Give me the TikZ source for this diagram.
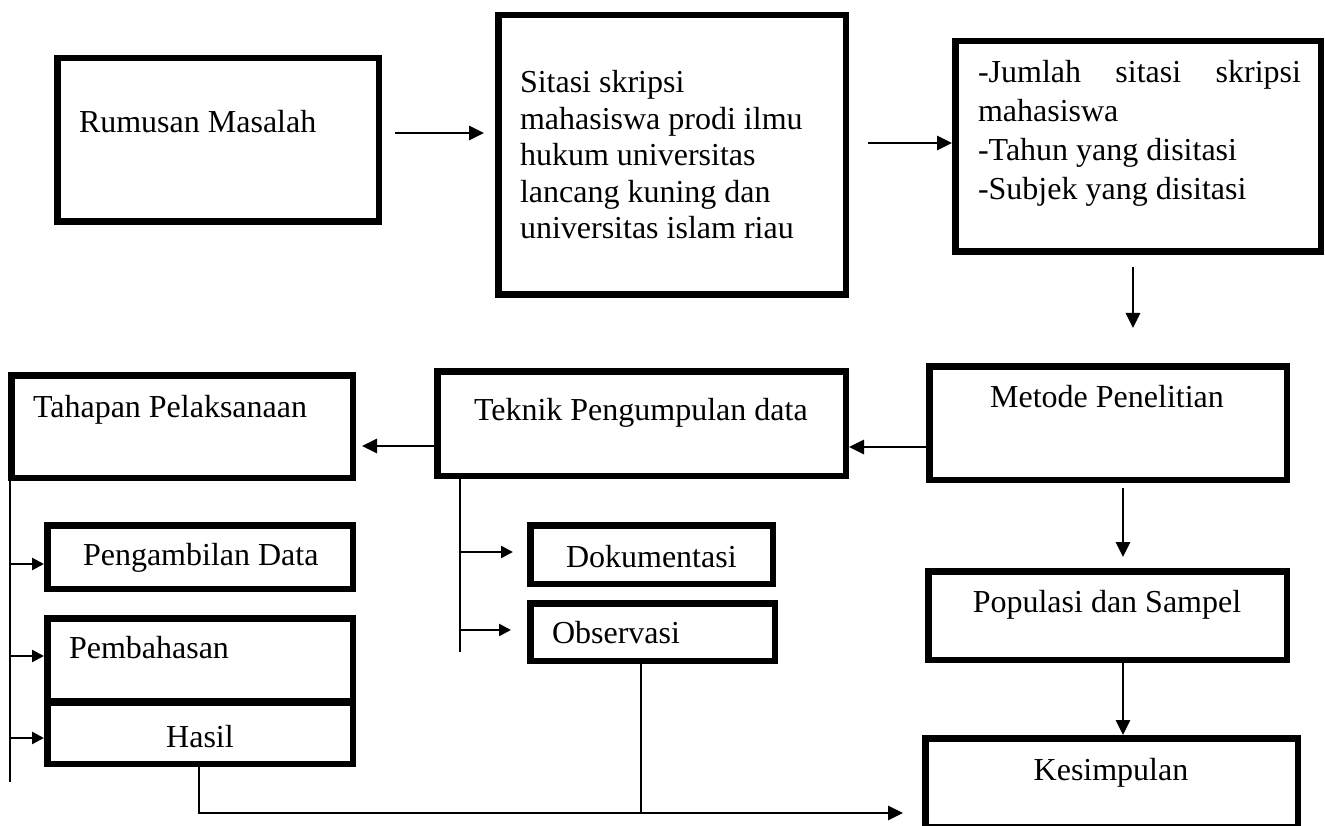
\documentclass[tikz,border=0pt]{standalone}
\usepackage{fontspec}
\setmainfont{Liberation Serif}
\usetikzlibrary{arrows.meta,calc}
\begin{document}
\begin{tikzpicture}[x=1pt,y=-1pt,
  box/.style={draw,line width=6.5pt,outer sep=3.25pt,inner sep=0pt},
  lbl/.style={inner sep=0pt,outer sep=0pt,font=\fontsize{32}{36.5}\selectfont},
  arr/.style={line width=2.7pt,-{Triangle[length=15pt,width=14pt]}},
  arrs/.style={line width=2.5pt,-{Triangle[length=12pt,width=12pt]}},
  trunk/.style={line width=2pt},
  thinline/.style={line width=1.3pt}]
\fill[white] (0,0) rectangle (1325,826);
\useasboundingbox (0,0) rectangle (1325,826);
% boxes
\node[box,minimum width=321.5pt,minimum height=163.5pt] (rum) at (218,140) {};
\node[box,minimum width=347.5pt,minimum height=279.5pt] (sit) at (672,155) {};
\node[box,minimum width=365.5pt,minimum height=210.5pt] (jum) at (1138,146.5) {};
\node[box,minimum width=357.5pt,minimum height=113.5pt] (met) at (1108,423) {};
\node[box,minimum width=408.5pt,minimum height=104.5pt] (tek) at (641.5,423.5) {};
\node[box,minimum width=341.5pt,minimum height=102.5pt] (tah) at (182,426.5) {};
\node[box,minimum width=305.5pt,minimum height=63.5pt] (pen) at (200,557) {};
\node[box,minimum width=305.5pt,minimum height=84.5pt] (pem) at (200,660.5) {};
\node[box,minimum width=305.5pt,minimum height=62.5pt] (has) at (200,732.5) {};
\node[box,minimum width=242.5pt,minimum height=58.5pt] (dok) at (651.5,554.5) {};
\node[box,minimum width=244.5pt,minimum height=57.5pt] (obs) at (652.5,632) {};
\node[box,minimum width=358.5pt,minimum height=88.5pt] (pop) at (1107.5,615.5) {};
\node[box,minimum width=372.5pt,minimum height=88.5pt] (kes) at (1111.5,782.5) {};
% texts
\node[lbl,anchor=base west] (trum) at (79,133) {Rumusan Masalah};
\node[lbl,anchor=base west] (ts1) at (520,93) {Sitasi skripsi};
\node[lbl,anchor=base west] (ts2) at (520,129.5) {mahasiswa prodi ilmu};
\node[lbl,anchor=base west] (ts3) at (520,166) {hukum universitas};
\node[lbl,anchor=base west] (ts4) at (520,202.5) {lancang kuning dan};
\node[lbl,anchor=base west] (ts5) at (520,239) {universitas islam riau};
\node[lbl,anchor=base west] (tj1) at (978,83) {\hbox to 323pt{-Jumlah\hfill sitasi\hfill skripsi}};
\node[lbl,anchor=base west] (tj2) at (978,122) {mahasiswa};
\node[lbl,anchor=base west] (tj3) at (978,161) {-Tahun yang disitasi};
\node[lbl,anchor=base west] (tj4) at (978,200) {-Subjek yang disitasi};
\node[lbl,anchor=base] (tmet) at (1107,407) {Metode Penelitian};
\node[lbl,anchor=base west] (ttek) at (474,420) {Teknik Pengumpulan data};
\node[lbl,anchor=base west] (ttah) at (33,417) {Tahapan Pelaksanaan};
\node[lbl,anchor=base west] (tpen) at (83,565) {Pengambilan Data};
\node[lbl,anchor=base west] (tpem) at (69,658) {Pembahasan};
\node[lbl,anchor=base] (thas) at (200,747) {Hasil};
\node[lbl,anchor=base west] (tdok) at (566,567) {Dokumentasi};
\node[lbl,anchor=base west] (tobs) at (552,643) {Observasi};
\node[lbl,anchor=base] (tpop) at (1107,612) {Populasi dan Sampel};
\node[lbl,anchor=base] (tkes) at (1111,780) {Kesimpulan};
% main arrows
\draw[arr] ($(rum.east)+(13,-7)$) -- ($(sit.west)+(-11,-22)$);
\draw[arr] ($(sit.east)+(19,-12)$) -- ($(jum.west)+(0,-3.5)$);
\draw[arr] ($(jum.south)+(-5,12)$) -- ($(met.north)+(25,-35)$);
\draw[arr] ($(met.west)+(0,24)$) -- ($(tek.east)+(0,23.5)$);
\draw[arr] ($(tek.west)+(0,22.5)$) -- ($(tah.east)+(6,19.5)$);
\draw[arr] ($(met.south)+(15,5)$) -- ($(pop.north)+(15.5,-11)$);
\draw[arr] ($(pop.south)+(15.5,0)$) -- ($(kes.north)+(11.5,0)$);
% Tahapan branches
\coordinate (tt) at ($(tah.south west)+(2,0)$);
\coordinate (ttend) at ($(tt)+(0,301)$);
\draw[trunk] (tt) -- (ttend);
\draw[arrs] ($(pen.west)+(-34,7)$) -- ($(pen.west)+(0,7)$);
\draw[arrs] ($(pem.west)+(-34,-4.5)$) -- ($(pem.west)+(0,-4.5)$);
\draw[arrs] ($(has.west)+(-34,5.5)$) -- ($(has.west)+(0,5.5)$);
% Teknik branches
\coordinate (tk) at ($(tek.south west)+(26,0)$);
\coordinate (tkend) at ($(tk)+(0,173)$);
\draw[trunk] (tk) -- (tkend);
\draw[arrs] ($(dok.west)+(-67,-2.5)$) -- ($(dok.west)+(-14,-2.5)$);
\draw[arrs] ($(obs.west)+(-67,-2)$) -- ($(obs.west)+(-16,-2)$);
% bottom connector
\draw[arr] ($(has.south)+(-1,0)$) |- ($(kes.west)+(-19,30.5)$);
\draw[thinline] ($(obs.south)+(-11.5,0)$) -- ($(obs.south)+(-11.5,149)$);
\end{tikzpicture}
\end{document}
